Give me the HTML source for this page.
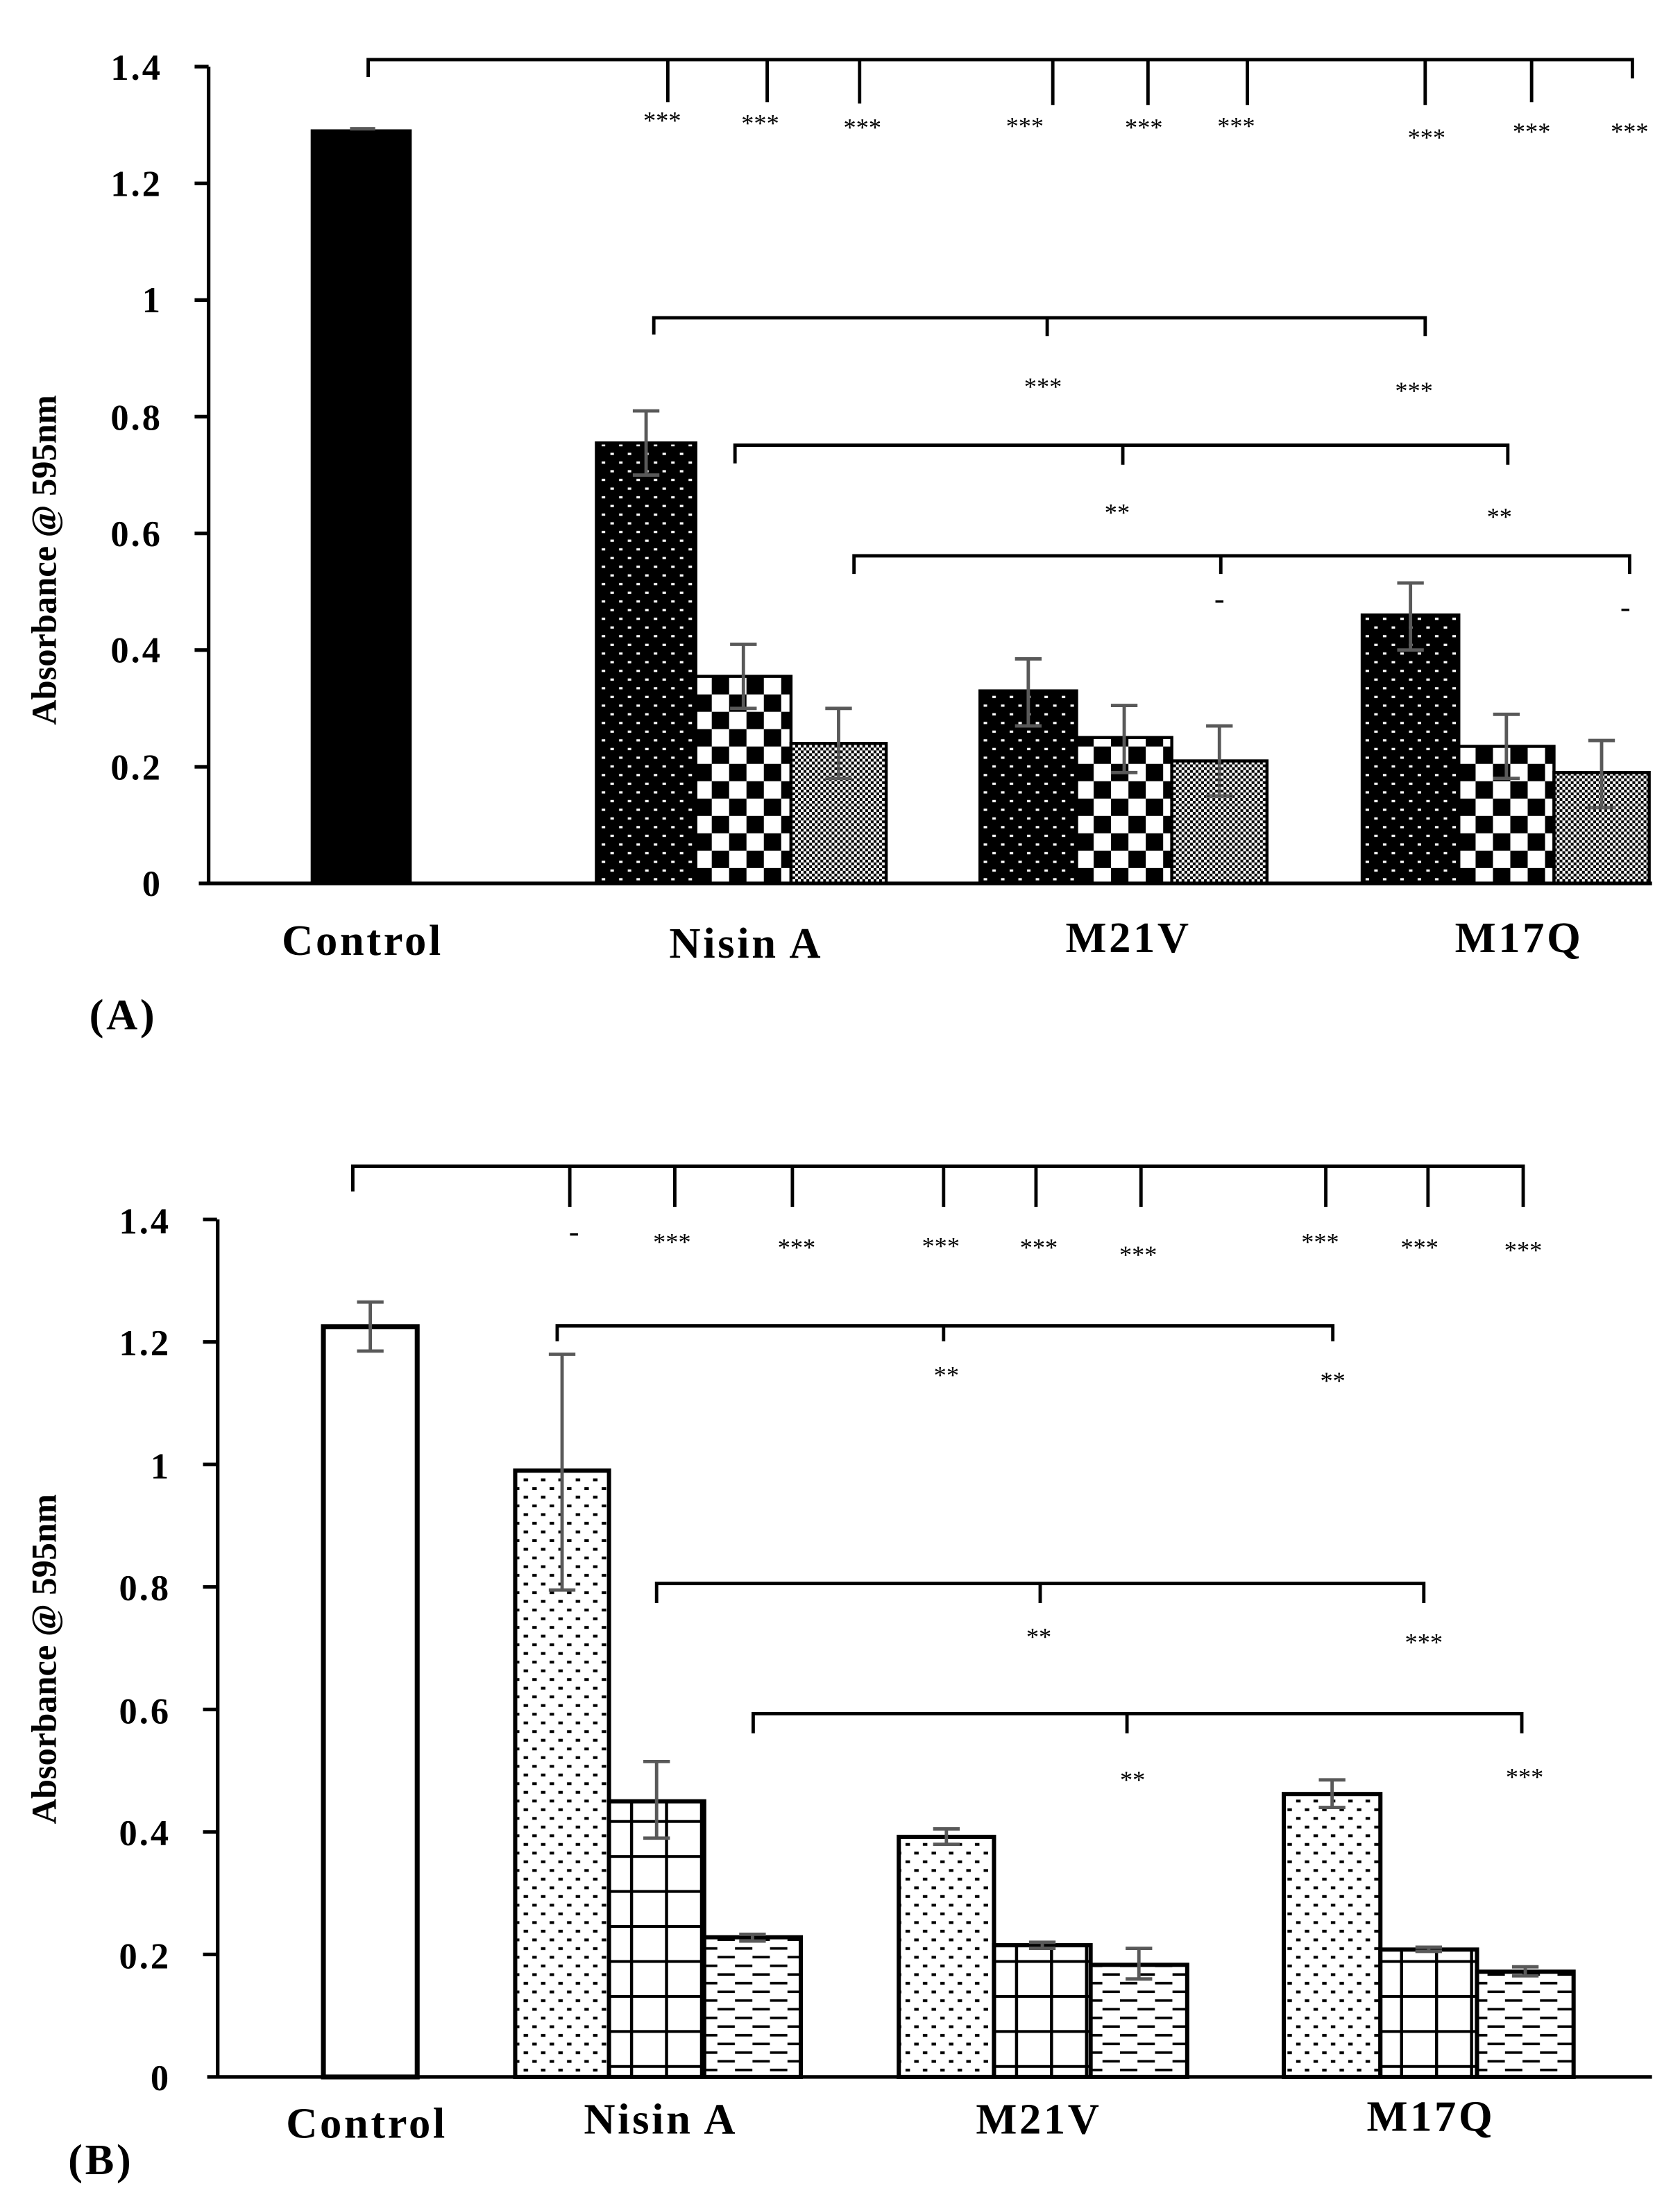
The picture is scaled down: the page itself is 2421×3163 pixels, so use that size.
<!DOCTYPE html>
<html><head><meta charset="utf-8"><style>
html,body{margin:0;padding:0;background:#fff}
svg{display:block}
text{font-family:"Liberation Serif",serif;font-weight:bold;fill:#000}
.t{font-size:26px;text-anchor:end;letter-spacing:1.5px}
.c{font-size:31px;text-anchor:middle;letter-spacing:1.8px}
.s{font-size:18px;text-anchor:middle;font-weight:normal;letter-spacing:0px}
.ax{stroke:#000;stroke-width:2.6;fill:none}
.br{stroke:#000;stroke-width:2.4;fill:none}
.bar{stroke:#000;stroke-width:2.2}
.eb{stroke:#595959;stroke-width:2.4;fill:none}
</style></head><body>
<svg width="2421" height="3163" viewBox="0 0 1200 1567.8" preserveAspectRatio="none">
<defs>
<pattern id="pA1" width="12.4" height="12.4" patternUnits="userSpaceOnUse">
<rect width="12.4" height="12.4" fill="#000"/>
<rect x="2" y="1" width="2.5" height="1.6" fill="#fff"/>
<rect x="8.2" y="7.2" width="2.5" height="1.6" fill="#fff"/>
</pattern>
<pattern id="pA2" width="24.8" height="24.8" patternUnits="userSpaceOnUse">
<rect width="24.8" height="24.8" fill="#fff"/>
<rect x="0" y="0" width="12.4" height="12.4" fill="#000"/>
<rect x="12.4" y="12.4" width="12.4" height="12.4" fill="#000"/>
</pattern>
<pattern id="pA3" width="4" height="4" patternUnits="userSpaceOnUse">
<rect width="4" height="4" fill="#fff"/>
<rect x="0" y="0" width="2" height="2" fill="#000"/>
<rect x="2" y="2" width="2" height="2" fill="#000"/>
</pattern>
<pattern id="pB1" width="12.4" height="12.4" patternUnits="userSpaceOnUse">
<rect width="12.4" height="12.4" fill="#fff"/>
<rect x="2" y="2" width="3.2" height="2" fill="#000"/>
<rect x="8.2" y="8.2" width="3.2" height="2" fill="#000"/>
</pattern>
<pattern id="pB2" width="25" height="25" patternUnits="userSpaceOnUse">
<rect width="25" height="25" fill="#fff"/>
<rect x="0" y="0" width="2.2" height="25" fill="#000"/>
<rect x="0" y="0" width="25" height="2" fill="#000"/>
</pattern>
<pattern id="pB3" width="25" height="12.4" patternUnits="userSpaceOnUse">
<rect width="25" height="12.4" fill="#fff"/>
<rect x="0" y="2" width="12.4" height="1.8" fill="#000"/>
<rect x="12.5" y="8.2" width="12.4" height="1.8" fill="#000"/>
</pattern>
</defs>

<!-- ============ Chart A ============ -->
<g>
<text x="40" y="400" transform="rotate(-90 40 400)" style="font-size:25px;text-anchor:middle">Absorbance @ 595nm</text>
<text class="t" x="116" y="57">1.4</text>
<text class="t" x="116" y="140">1.2</text>
<text class="t" x="116" y="223">1</text>
<text class="t" x="116" y="307">0.8</text>
<text class="t" x="116" y="390">0.6</text>
<text class="t" x="116" y="473">0.4</text>
<text class="t" x="116" y="557">0.2</text>
<text class="t" x="116" y="640">0</text>
<line class="ax" x1="149" y1="47.6" x2="149" y2="631"/>
<g class="ax">
<line x1="139" y1="47.6" x2="149" y2="47.6"/><line x1="139" y1="131" x2="149" y2="131"/>
<line x1="139" y1="214.3" x2="149" y2="214.3"/><line x1="139" y1="297.6" x2="149" y2="297.6"/>
<line x1="139" y1="381" x2="149" y2="381"/><line x1="139" y1="464.3" x2="149" y2="464.3"/>
<line x1="139" y1="547.7" x2="149" y2="547.7"/>
</g>
<rect class="bar" x="223" y="93.5" width="70" height="537.5" fill="#000"/>
<line class="eb" x1="250" y1="92" x2="268" y2="92"/>

<rect class="bar" x="426" y="316.4" width="71" height="314.6" fill="url(#pA1)"/>
<rect class="bar" x="497" y="483.1" width="68" height="147.9" fill="url(#pA2)"/>
<rect class="bar" x="565" y="531" width="68" height="100" fill="url(#pA3)"/>
<rect class="bar" x="700" y="493.5" width="69" height="137.5" fill="url(#pA1)"/>
<rect class="bar" x="769" y="526.8" width="68" height="104.2" fill="url(#pA2)"/>
<rect class="bar" x="837" y="543.5" width="68" height="87.5" fill="url(#pA3)"/>
<rect class="bar" x="973" y="439.3" width="69" height="191.7" fill="url(#pA1)"/>
<rect class="bar" x="1042" y="533.1" width="68" height="97.9" fill="url(#pA2)"/>
<rect class="bar" x="1110" y="551.8" width="68" height="79.2" fill="url(#pA3)"/>

<g class="eb">
<path d="M461.5 293.5V339.3M452 293.5H471M452 339.3H471"/>
<path d="M531 460.2V506M521.5 460.2H540.5M521.5 506H540.5"/>
<path d="M599 506V556M589.5 506H608.5M589.5 556H608.5"/>
<path d="M734.5 470.6V518.5M725 470.6H744M725 518.5H744"/>
<path d="M803 503.9V551.8M793.5 503.9H812.5M793.5 551.8H812.5"/>
<path d="M871 518.5V568.5M861.5 518.5H880.5M861.5 568.5H880.5"/>
<path d="M1007.5 416.4V464.3M998 416.4H1017M998 464.3H1017"/>
<path d="M1076 510.2V556M1066.5 510.2H1085.5M1066.5 556H1085.5"/>
<path d="M1144 528.9V576.8M1134.5 528.9H1153.5M1134.5 576.8H1153.5"/>
</g>
<line class="ax" x1="142" y1="631" x2="1180" y2="631"/>

<path class="br" d="M263 55V42.6H1166V56M477 42.6V73M548 42.6V73M614 42.6V74M752 42.6V75M820 42.6V75M891 42.6V75M1018 42.6V75M1094 42.6V73"/>
<text class="s" x="473" y="92">***</text><text class="s" x="543" y="94">***</text><text class="s" x="616" y="97">***</text>
<text class="s" x="732" y="96">***</text><text class="s" x="817" y="97">***</text><text class="s" x="883" y="96">***</text>
<text class="s" x="1019" y="104">***</text><text class="s" x="1094" y="100">***</text><text class="s" x="1164" y="100">***</text>

<path class="br" d="M467 239V227H1018V240M748 227V240"/>
<text class="s" x="745" y="282">***</text><text class="s" x="1010" y="285">***</text>
<path class="br" d="M525 331V318H1077V332M802 318V332"/>
<text class="s" x="798" y="372">**</text><text class="s" x="1071" y="375">**</text>
<path class="br" d="M610 410V397H1164V410M872 397V410"/>
<text class="s" x="871" y="435" style="font-size:22px">-</text><text class="s" x="1161" y="441" style="font-size:22px">-</text>

<text class="c" x="259" y="682">Control</text>
<text class="c" x="533" y="684">Nisin A</text>
<text class="c" x="806" y="680">M21V</text>
<text class="c" x="1085" y="680">M17Q</text>
<text class="c" x="88" y="735">(A)</text>
</g>

<!-- ============ Chart B ============ -->
<g>
<text x="40" y="1185" transform="rotate(-90 40 1185)" style="font-size:25px;text-anchor:middle">Absorbance @ 595nm</text>
<text class="t" x="122" y="881">1.4</text>
<text class="t" x="122" y="968">1.2</text>
<text class="t" x="122" y="1056">1</text>
<text class="t" x="122" y="1143">0.8</text>
<text class="t" x="122" y="1231">0.6</text>
<text class="t" x="122" y="1318">0.4</text>
<text class="t" x="122" y="1406">0.2</text>
<text class="t" x="122" y="1493">0</text>
<line class="ax" x1="155.5" y1="871" x2="155.5" y2="1483.5"/>
<g class="ax">
<line x1="145" y1="871" x2="155" y2="871"/><line x1="145" y1="958.5" x2="155" y2="958.5"/>
<line x1="145" y1="1046" x2="155" y2="1046"/><line x1="145" y1="1133.5" x2="155" y2="1133.5"/>
<line x1="145" y1="1221" x2="155" y2="1221"/><line x1="145" y1="1308.5" x2="155" y2="1308.5"/>
<line x1="145" y1="1396" x2="155" y2="1396"/>
</g>
<rect class="bar" x="231" y="947.6" width="67" height="535.9" fill="#fff" style="stroke-width:3.5"/>
<path class="eb" d="M264.5 930V965M255 930H274M255 965H274"/>

<rect class="bar" x="368" y="1050.4" width="67" height="433.1" fill="url(#pB1)" style="stroke-width:3"/>
<rect class="bar" x="435" y="1286.6" width="68" height="196.9" fill="url(#pB2)" style="stroke-width:3"/>
<rect class="bar" x="503" y="1383.7" width="69" height="99.8" fill="url(#pB3)" style="stroke-width:3"/>
<rect class="bar" x="642" y="1312" width="68" height="171.5" fill="url(#pB1)" style="stroke-width:3"/>
<rect class="bar" x="710" y="1389.4" width="69" height="94.1" fill="url(#pB2)" style="stroke-width:3"/>
<rect class="bar" x="779" y="1403.4" width="69" height="80.1" fill="url(#pB3)" style="stroke-width:3"/>
<rect class="bar" x="917" y="1281.4" width="69" height="202.1" fill="url(#pB1)" style="stroke-width:3"/>
<rect class="bar" x="986" y="1392.5" width="69" height="91" fill="url(#pB2)" style="stroke-width:3"/>
<rect class="bar" x="1055" y="1408.3" width="69" height="75.2" fill="url(#pB3)" style="stroke-width:3"/>

<g class="eb">
<path d="M401.5 967.3V1135.7M392 967.3H411M392 1135.7H411"/>
<path d="M469 1258.2V1312.9M459.5 1258.2H478.5M459.5 1312.9H478.5"/>
<path d="M537.5 1381.6V1386.4M528 1381.6H547M528 1386.4H547"/>
<path d="M676 1306.3V1317.3M666.5 1306.3H685.5M666.5 1317.3H685.5"/>
<path d="M744.5 1387.3V1391.6M735 1387.3H754M735 1391.6H754"/>
<path d="M813.5 1391.6V1413.5M804 1391.6H823M804 1413.5H823"/>
<path d="M951.5 1271.3V1291M942 1271.3H961M942 1291H961"/>
<path d="M1020.5 1390.8V1393.8M1011 1390.8H1030M1011 1393.8H1030"/>
<path d="M1089.5 1404.8V1411.3M1080 1404.8H1099M1080 1411.3H1099"/>
</g>
<line class="ax" x1="148" y1="1483.5" x2="1180" y2="1483.5"/>

<path class="br" d="M252 851V833H1088V862M407 833V862M482 833V862M566 833V862M674 833V862M740 833V862M815 833V862M947 833V862M1020 833V862"/>
<text class="s" x="410" y="887" style="font-size:22px">-</text><text class="s" x="480" y="893">***</text><text class="s" x="569" y="897">***</text>
<text class="s" x="672" y="896">***</text><text class="s" x="742" y="897">***</text><text class="s" x="813" y="902">***</text>
<text class="s" x="943" y="893">***</text><text class="s" x="1014" y="897">***</text><text class="s" x="1088" y="899">***</text>

<path class="br" d="M398 958V947H952V958M674 947V958"/>
<text class="s" x="676" y="988">**</text><text class="s" x="952" y="992">**</text>
<path class="br" d="M469 1145V1131H1017V1145M743 1131V1145"/>
<text class="s" x="742" y="1175">**</text><text class="s" x="1017" y="1179">***</text>
<path class="br" d="M538 1238V1224H1087V1238M805 1224V1238"/>
<text class="s" x="809" y="1277">**</text><text class="s" x="1089" y="1275">***</text>

<text class="c" x="262" y="1527">Control</text>
<text class="c" x="472" y="1524">Nisin A</text>
<text class="c" x="742" y="1524">M21V</text>
<text class="c" x="1022" y="1522">M17Q</text>
<text class="c" x="72" y="1553">(B)</text>
</g>
</svg>
</body></html>
